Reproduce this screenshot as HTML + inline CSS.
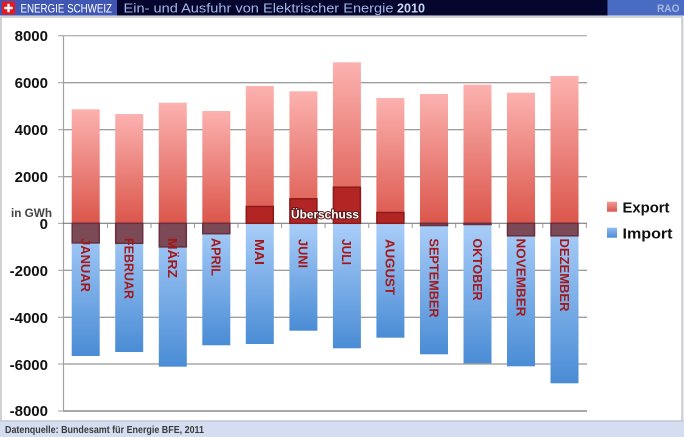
<!DOCTYPE html>
<html><head><meta charset="utf-8"><style>
html,body{margin:0;padding:0;background:#fff;}
svg{display:block;font-family:"Liberation Sans",Arial,sans-serif;}
</style></head><body>
<svg width="684" height="437" viewBox="0 0 684 437" xmlns="http://www.w3.org/2000/svg">
<defs>
<linearGradient id="ex" x1="0" y1="0" x2="0" y2="1"><stop offset="0" stop-color="#fcb2b0"/><stop offset="1" stop-color="#db564b"/></linearGradient>
<linearGradient id="im" x1="0" y1="0" x2="0" y2="1"><stop offset="0" stop-color="#aacef9"/><stop offset="1" stop-color="#4a8cd5"/></linearGradient>
<linearGradient id="exl" x1="0" y1="0" x2="0" y2="1"><stop offset="0" stop-color="#f59a98"/><stop offset="1" stop-color="#d9564c"/></linearGradient>
<linearGradient id="iml" x1="0" y1="0" x2="0" y2="1"><stop offset="0" stop-color="#8fbdf2"/><stop offset="1" stop-color="#4a8cd5"/></linearGradient>
</defs>
<!-- background panel -->
<rect x="0" y="0" width="684" height="437" fill="#e6e9ef"/>
<rect x="1" y="17" width="681" height="404" fill="#ffffff" stroke="#c8c8c8" stroke-width="1.5"/>
<!-- footer -->
<rect x="0" y="421" width="684" height="16" fill="#d4def0"/>
<line x1="0" y1="421" x2="684" y2="421" fill="none" stroke="#b8c2d4" stroke-width="1"/>
<text x="5" y="433" font-size="10" font-weight="bold" fill="#3a3a3a" textLength="199" lengthAdjust="spacingAndGlyphs">Datenquelle: Bundesamt für Energie BFE, 2011</text>
<!-- header -->
<rect x="0" y="0" width="684" height="15.5" fill="#06052e"/>
<rect x="0" y="0" width="117" height="15.5" fill="#3f57b3"/>
<rect x="607.5" y="0" width="76.5" height="15.5" fill="#4a6bc2"/>
<rect x="2" y="1.5" width="13" height="13" fill="#e21b22"/>
<rect x="7.3" y="3.8" width="2.4" height="8.4" fill="#fff"/>
<rect x="4.3" y="6.8" width="8.4" height="2.4" fill="#fff"/>
<text x="20.5" y="12.5" font-size="12" fill="#ffffff" textLength="91.5" lengthAdjust="spacingAndGlyphs">ENERGIE SCHWEIZ</text>
<text x="123.5" y="12.6" font-size="13" fill="#9fb7e6" textLength="270" lengthAdjust="spacingAndGlyphs">Ein- und Ausfuhr von Elektrischer Energie</text>
<text x="397" y="12.6" font-size="13" font-weight="bold" fill="#c6d6f4" textLength="28" lengthAdjust="spacingAndGlyphs">2010</text>
<text x="657" y="12" font-size="11" font-weight="bold" fill="#a9b6df" textLength="22.5" lengthAdjust="spacingAndGlyphs">RAO</text>

<!-- gridlines -->
<g stroke="#7d7d7d" stroke-width="1">
<line x1="63" y1="35.7" x2="587" y2="35.7" stroke="#9a9a9a"/>
<line x1="63" y1="82.7" x2="587" y2="82.7"/>
<line x1="63" y1="129.7" x2="587" y2="129.7"/>
<line x1="63" y1="176.7" x2="587" y2="176.7"/>
<line x1="63" y1="270.3" x2="587" y2="270.3"/>
<line x1="63" y1="317.3" x2="587" y2="317.3"/>
<line x1="63" y1="364" x2="587" y2="364"/>
</g>
<line x1="63" y1="411" x2="587" y2="411" stroke="#a8a8a8" stroke-width="2"/>
<line x1="63.5" y1="35.7" x2="63.5" y2="411" stroke="#a0a0a0" stroke-width="1.2"/>
<g stroke="#a0a0a0" stroke-width="1">
<line x1="58" y1="35.7" x2="63" y2="35.7"/><line x1="58" y1="82.7" x2="63" y2="82.7"/>
<line x1="58" y1="129.7" x2="63" y2="129.7"/><line x1="58" y1="176.7" x2="63" y2="176.7"/>
<line x1="58" y1="223.3" x2="63" y2="223.3"/><line x1="58" y1="270.3" x2="63" y2="270.3"/>
<line x1="58" y1="317.3" x2="63" y2="317.3"/><line x1="58" y1="364" x2="63" y2="364"/>
<line x1="58" y1="411" x2="63" y2="411"/>
</g>

<!-- y labels -->
<g font-size="15" font-weight="bold" fill="#111" text-anchor="end">
<text x="48" y="41">8000</text>
<text x="48" y="88">6000</text>
<text x="48" y="135">4000</text>
<text x="48" y="182">2000</text>
<text x="48" y="229">0</text>
<text x="48" y="276">-2000</text>
<text x="48" y="323">-4000</text>
<text x="48" y="370">-6000</text>
<text x="48" y="416">-8000</text>
</g>
<text x="11" y="217" font-size="12" font-weight="bold" fill="#444" textLength="41" lengthAdjust="spacingAndGlyphs">in GWh</text>

<!-- bars -->
<g id="bars">
<!-- export -->
<rect x="71.7" y="109.3" width="28" height="114" fill="url(#ex)"/>
<rect x="115.2" y="114" width="28" height="109.3" fill="url(#ex)"/>
<rect x="158.8" y="102.7" width="28" height="120.6" fill="url(#ex)"/>
<rect x="202.3" y="111" width="28" height="112.3" fill="url(#ex)"/>
<rect x="245.8" y="86" width="28" height="137.3" fill="url(#ex)"/>
<rect x="289.4" y="91.3" width="28" height="132" fill="url(#ex)"/>
<rect x="332.9" y="62.3" width="28" height="161" fill="url(#ex)"/>
<rect x="376.4" y="98" width="28" height="125.3" fill="url(#ex)"/>
<rect x="420" y="94" width="28" height="129.3" fill="url(#ex)"/>
<rect x="463.5" y="84.7" width="28" height="138.6" fill="url(#ex)"/>
<rect x="507" y="92.7" width="28" height="130.6" fill="url(#ex)"/>
<rect x="550.5" y="76" width="28" height="147.3" fill="url(#ex)"/>
<!-- import -->
<rect x="71.7" y="223.3" width="28" height="132.7" fill="url(#im)"/>
<rect x="115.2" y="223.3" width="28" height="128.7" fill="url(#im)"/>
<rect x="158.8" y="223.3" width="28" height="143.4" fill="url(#im)"/>
<rect x="202.3" y="223.3" width="28" height="122" fill="url(#im)"/>
<rect x="245.8" y="223.3" width="28" height="120.7" fill="url(#im)"/>
<rect x="289.4" y="223.3" width="28" height="107.4" fill="url(#im)"/>
<rect x="332.9" y="223.3" width="28" height="125" fill="url(#im)"/>
<rect x="376.4" y="223.3" width="28" height="114.4" fill="url(#im)"/>
<rect x="420" y="223.3" width="28" height="131" fill="url(#im)"/>
<rect x="463.5" y="223.3" width="28" height="140" fill="url(#im)"/>
<rect x="507" y="223.3" width="28" height="143" fill="url(#im)"/>
<rect x="550.5" y="223.3" width="28" height="160" fill="url(#im)"/>
</g>
<!-- zero line -->
<line x1="63" y1="223.3" x2="587" y2="223.3" stroke="#6a6a6a" stroke-width="1"/>
<g stroke="#9a9a9a" stroke-width="1">
<line x1="107.5" y1="223.3" x2="107.5" y2="228"/><line x1="151" y1="223.3" x2="151" y2="228"/>
<line x1="194.5" y1="223.3" x2="194.5" y2="228"/><line x1="238" y1="223.3" x2="238" y2="228"/>
<line x1="281.6" y1="223.3" x2="281.6" y2="228"/><line x1="325.1" y1="223.3" x2="325.1" y2="228"/>
<line x1="368.7" y1="223.3" x2="368.7" y2="228"/><line x1="412.2" y1="223.3" x2="412.2" y2="228"/>
<line x1="455.7" y1="223.3" x2="455.7" y2="228"/><line x1="499.3" y1="223.3" x2="499.3" y2="228"/>
<line x1="542.8" y1="223.3" x2="542.8" y2="228"/><line x1="586.3" y1="223.3" x2="586.3" y2="228"/>
</g>
<!-- net boxes -->
<g fill="#7c4957" stroke="#6a2f3e" stroke-width="1.5">
<rect x="72.2" y="223.3" width="27" height="19.6"/>
<rect x="115.7" y="223.3" width="27" height="20"/>
<rect x="159.3" y="223.3" width="27" height="23.6"/>
<rect x="202.8" y="223.3" width="27" height="10.4"/>
<rect x="420.5" y="223.3" width="27" height="2.2"/>
<rect x="464" y="223.3" width="27" height="1.2"/>
<rect x="507.5" y="223.3" width="27" height="12.5"/>
<rect x="551" y="223.3" width="27" height="12.5"/>
</g>
<g fill="#b32424" stroke="#8b1a1a" stroke-width="1.5">
<rect x="246.3" y="206.5" width="27" height="16.8"/>
<rect x="289.9" y="198.8" width="27" height="24.5"/>
<rect x="333.4" y="187.2" width="27" height="36.1"/>
<rect x="376.9" y="212.5" width="27" height="10.8"/>
</g>
<text x="325" y="218.5" font-size="12" font-weight="bold" fill="#fff" stroke="#5a1a1a" stroke-width="2" paint-order="stroke" text-anchor="middle" textLength="68" lengthAdjust="spacingAndGlyphs">Überschuss</text>

<!-- month labels -->
<g font-size="13" font-weight="bold" fill="#a3191b">
<text transform="translate(85.7,238) rotate(90)" dy="0.36em" textLength="54" lengthAdjust="spacingAndGlyphs">JANUAR</text>
<text transform="translate(129.2,238) rotate(90)" dy="0.36em" textLength="61" lengthAdjust="spacingAndGlyphs">FEBRUAR</text>
<text transform="translate(172.8,238) rotate(90)" dy="0.36em" textLength="40" lengthAdjust="spacingAndGlyphs">MÄRZ</text>
<text transform="translate(216.3,238) rotate(90)" dy="0.36em" textLength="38" lengthAdjust="spacingAndGlyphs">APRIL</text>
<text transform="translate(259.8,239) rotate(90)" dy="0.36em" textLength="26" lengthAdjust="spacingAndGlyphs">MAI</text>
<text transform="translate(303.4,239) rotate(90)" dy="0.36em" textLength="29" lengthAdjust="spacingAndGlyphs">JUNI</text>
<text transform="translate(346.9,239) rotate(90)" dy="0.36em" textLength="26" lengthAdjust="spacingAndGlyphs">JULI</text>
<text transform="translate(390.4,239) rotate(90)" dy="0.36em" textLength="56" lengthAdjust="spacingAndGlyphs">AUGUST</text>
<text transform="translate(434,238.5) rotate(90)" dy="0.36em" textLength="79" lengthAdjust="spacingAndGlyphs">SEPTEMBER</text>
<text transform="translate(477.5,238.5) rotate(90)" dy="0.36em" textLength="62" lengthAdjust="spacingAndGlyphs">OKTOBER</text>
<text transform="translate(521,238.5) rotate(90)" dy="0.36em" textLength="78" lengthAdjust="spacingAndGlyphs">NOVEMBER</text>
<text transform="translate(564.5,238.5) rotate(90)" dy="0.36em" textLength="73" lengthAdjust="spacingAndGlyphs">DEZEMBER</text>
</g>

<!-- legend -->
<rect x="607" y="201.7" width="10" height="10" fill="url(#exl)"/>
<rect x="607" y="227.7" width="10" height="10" fill="url(#iml)"/>
<g font-size="15" font-weight="bold" fill="#111">
<text x="622.5" y="212.5" textLength="47" lengthAdjust="spacingAndGlyphs">Export</text>
<text x="622.5" y="238.5" textLength="50" lengthAdjust="spacingAndGlyphs">Import</text>
</g>
</svg>
</body></html>
